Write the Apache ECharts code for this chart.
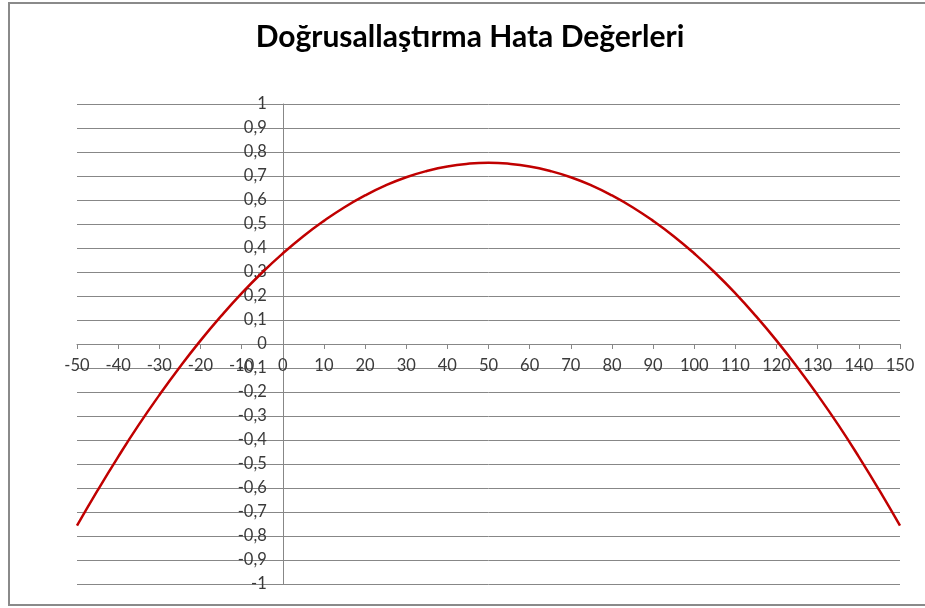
<!DOCTYPE html>
<html>
<head>
<meta charset="utf-8">
<script src="https://cdn.jsdelivr.net/npm/echarts@6/dist/echarts.min.js"></script>
<style>
  html, body { margin: 0; padding: 0; background: #fff; }
  #chart { width: 925px; height: 608px; }
</style>
</head>
<body>
<div id="chart"></div>
<script>
// hata eğrisi, x adımı 5
var xValues = [-50, -45, -40, -35, -30, -25, -20, -15, -10, -5, 0, 5, 10, 15, 20, 25, 30, 35, 40, 45, 50,
  55, 60, 65, 70, 75, 80, 85, 90, 95, 100, 105, 110, 115, 120, 125, 130, 135, 140, 145, 150];
var errValues = [-0.757, -0.610, -0.470, -0.337, -0.213, -0.096, 0.014, 0.116, 0.211, 0.298, 0.377,
  0.449, 0.513, 0.570, 0.619, 0.661, 0.695, 0.721, 0.740, 0.751, 0.755,
  0.751, 0.740, 0.721, 0.695, 0.661, 0.619, 0.570, 0.513, 0.449, 0.377,
  0.298, 0.211, 0.116, 0.014, -0.096, -0.213, -0.337, -0.470, -0.610, -0.757];
var titleText = "Doğrusallaştırma Hata Değerleri";

var chart = echarts.init(document.getElementById("chart"));
var labelColor = "#3a3a3a";
var gridColor = "#878787";

// eksenler sıfırda kesişsin: grid 823x480, x=0 -> 205.75px, y=0 -> ortada
var gridW = 823, gridH = 480;

chart.setOption({
  animation: false,
  backgroundColor: "#fff",
  title: {
    text: titleText,
    left: 465,
    textAlign: "center",
    top: 17,
    textStyle: {
      fontFamily: "Lato",
      fontWeight: "bold",
      fontSize: 30,
      color: "#000"
    }
  },
  graphic: [
    {
      type: "rect",
      shape: { x: 9, y: 3, width: 940, height: 602 },
      style: { fill: "none", stroke: "#8a8a8a", lineWidth: 2 },
      silent: true
    }
  ],
  grid: {
    left: 77,
    right: 25,
    top: 104,
    bottom: 24
  },
  xAxis: {
    type: "value",
    min: -50,
    max: 150,
    interval: 10,
    position: "bottom",
    offset: -gridH / 2,
    axisLine: {
      onZero: false,
      lineStyle: { color: gridColor, width: 1 }
    },
    axisTick: {
      show: true,
      length: 5,
      lineStyle: { color: gridColor }
    },
    axisLabel: {
      margin: 13,
      fontFamily: "Lato",
      fontSize: 16.5,
      color: labelColor
    },
    splitLine: { show: false }
  },
  yAxis: {
    type: "value",
    min: -1,
    max: 1,
    interval: 0.1,
    position: "left",
    offset: -gridW * 50 / 200,
    axisLine: {
      onZero: false,
      lineStyle: { color: gridColor, width: 1 }
    },
    axisTick: { show: false },
    axisLabel: {
      margin: 16,
      fontFamily: "Lato",
      fontSize: 16.5,
      color: labelColor,
      formatter: function (v) {
        return String(+v.toFixed(1)).replace(".", ",");
      }
    },
    splitLine: {
      show: true,
      lineStyle: { color: gridColor, width: 1 }
    }
  },
  series: [
    {
      type: "line",
      data: xValues.map(function (x, i) { return [x, errValues[i]]; }),
      smooth: true,
      showSymbol: false,
      lineStyle: { color: "#c00000", width: 2.5 }
    }
  ]
});
</script>
</body>
</html>
